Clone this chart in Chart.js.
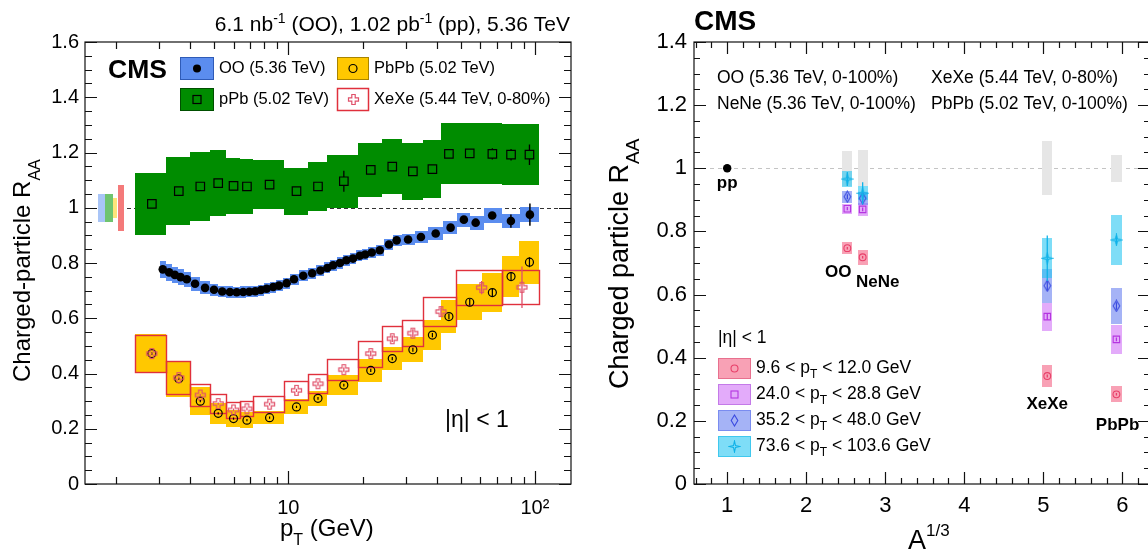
<!DOCTYPE html>
<html>
<head>
<meta charset="utf-8">
<script src="https://cdn.jsdelivr.net/npm/chart.js@4.4.1/dist/chart.umd.min.js"></script>
<style>
html,body{margin:0;padding:0;background:#fff;width:1148px;height:551px;overflow:hidden;}
canvas{position:absolute;top:0;}
#left{left:0;}
#right{left:585px;}
</style>
</head>
<body>
<canvas id="left" width="585" height="551"></canvas>
<canvas id="right" width="575" height="551"></canvas>
<script>
// ================= DATA : left panel (R_AA vs pT) =================
const ptBinEdges = [2.4,3.2,4.0,4.8,5.6,6.4,7.2,9.6,12.0,14.4,19.2,24.0,28.8,35.2,41.6,48.0,60.8,73.6,86.4,103.6];
const ptBinEdgesXeXe = [2.4,3.2,4.0,4.8,5.6,6.4,7.2,9.6,12.0,14.4,19.2,24.0,28.8,35.2,48.0,73.6,103.6];

const ooPt = [3.10,3.29,3.47,3.66,3.88,4.19,4.60,5.00,5.40,5.80,6.18,6.57,6.95,7.35,7.75,8.17,8.69,9.17,9.85,10.55,11.5,12.5,13.5,14.4,15.2,16.2,17.2,18.3,19.5,20.5,21.8,23.5,25.6,27.5,30.6,34.5,39.6,45.5,51.5,57.5,67.1,79.9,95.4];
const ooRaa = [0.777,0.766,0.757,0.749,0.741,0.725,0.710,0.703,0.697,0.695,0.694,0.695,0.696,0.698,0.702,0.707,0.713,0.718,0.727,0.741,0.754,0.763,0.773,0.782,0.792,0.800,0.810,0.816,0.826,0.831,0.838,0.846,0.867,0.882,0.885,0.894,0.907,0.928,0.957,0.946,0.972,0.952,0.975];
const ooStat = [0.002,0.002,0.002,0.002,0.002,0.002,0.002,0.002,0.002,0.002,0.002,0.002,0.002,0.002,0.002,0.002,0.002,0.002,0.002,0.002,0.002,0.002,0.002,0.002,0.002,0.002,0.002,0.002,0.002,0.002,0.002,0.002,0.002,0.002,0.002,0.003,0.003,0.004,0.005,0.006,0.008,0.024,0.040];
const ooSyst = [0.030,0.030,0.029,0.028,0.027,0.026,0.024,0.022,0.021,0.020,0.020,0.020,0.020,0.020,0.020,0.020,0.020,0.020,0.020,0.020,0.020,0.020,0.020,0.020,0.020,0.020,0.020,0.020,0.020,0.020,0.020,0.020,0.020,0.020,0.020,0.021,0.022,0.023,0.025,0.025,0.026,0.026,0.026];

const pPbRaa  = [1.014,1.060,1.077,1.089,1.079,1.077,1.084,1.060,1.077,1.096,1.137,1.149,1.132,1.140,1.195,1.197,1.195,1.192,1.192];
const pPbStat = [0.004,0.004,0.004,0.004,0.004,0.004,0.004,0.005,0.006,0.038,0.008,0.009,0.008,0.010,0.010,0.012,0.020,0.021,0.037];
const pPbSyst = [0.112,0.122,0.124,0.120,0.100,0.100,0.090,0.085,0.088,0.096,0.098,0.100,0.103,0.104,0.110,0.110,0.110,0.110,0.110];

const pbpbRaa  = [0.472,0.381,0.300,0.256,0.237,0.231,0.240,0.279,0.310,0.358,0.411,0.454,0.486,0.539,0.606,0.658,0.693,0.751,0.803];
const pbpbStat = [0.004,0.004,0.004,0.004,0.004,0.004,0.004,0.004,0.005,0.005,0.006,0.006,0.007,0.008,0.010,0.012,0.014,0.016,0.018];
const pbpbSyst = [0.070,0.065,0.051,0.038,0.030,0.028,0.023,0.027,0.028,0.036,0.040,0.043,0.045,0.055,0.060,0.066,0.069,0.075,0.078];

const xexeRaa  = [0.472,0.385,0.322,0.291,0.268,0.272,0.289,0.339,0.363,0.414,0.472,0.526,0.546,0.624,0.711,0.712];
const xexeStat = [0.003,0.004,0.004,0.004,0.005,0.005,0.005,0.006,0.007,0.008,0.010,0.012,0.014,0.016,0.024,0.075];
const xexeSyst = [0.066,0.060,0.040,0.034,0.030,0.027,0.030,0.034,0.035,0.039,0.047,0.045,0.048,0.053,0.062,0.062];

const normLabels = ['OO','pPb','PbPb','XeXe'];
const normUncLeft = [0.050,0.050,0.037,0.084];

const ptMajorTicks = [10,100];
const ptMinorTicks = [2,3,4,5,6,7,8,9,20,30,40,50,60,70,80,90];
const raaMajorLeft = [0,0.2,0.4,0.6,0.8,1.0,1.2,1.4,1.6];

// ================= DATA : right panel (R_AA vs A^1/3) =================
const systemNames = ['OO','NeNe','XeXe','PbPb'];
const aThird = [2.52,2.714,5.05,5.925];
const normUncRight = [0.055,0.057,0.085,0.043];
const ppA = [1.0];
const ppRaa = [1.0];
const binLabels = ['9.6 < p','24.0 < p','35.2 < p','73.6 < p'];
const binLabelsEnd = [' < 12.0 GeV',' < 28.8 GeV',' < 48.0 GeV',' < 103.6 GeV'];
const raaBin1 = [0.747,0.718,0.342,0.284];
const sysBin1 = [0.020,0.024,0.035,0.025];
const statBin1 = [0.004,0.004,0.005,0.004];
const raaBin2 = [0.872,0.870,0.530,0.458];
const sysBin2 = [0.016,0.020,0.044,0.045];
const statBin2 = [0.005,0.006,0.010,0.006];
const raaBin3 = [0.910,0.905,0.628,0.564];
const sysBin3 = [0.019,0.020,0.054,0.058];
const statBin3 = [0.008,0.010,0.015,0.012];
const raaBin4 = [0.966,0.921,0.715,0.773];
const sysBin4 = [0.026,0.023,0.063,0.079];
const statBin4 = [0.022,0.035,0.072,0.012];

const aMajorTicks = [1,2,3,4,5,6];
const aMinorTicks = [0.6,0.8,1.2,1.4,1.6,1.8,2.2,2.4,2.6,2.8,3.2,3.4,3.6,3.8,4.2,4.4,4.6,4.8,5.2,5.4,5.6,5.8,6.2];
const raaMajorRight = [0,0.2,0.4,0.6,0.8,1.0,1.2,1.4];

// ================= styles =================
const FONT = '"Liberation Sans", Arial, Helvetica, sans-serif';
const fnt = (s, b) => (b ? 'bold ' : '') + s + 'px ' + FONT;
Chart.defaults.font.family = FONT;
Chart.defaults.color = '#000';
Chart.defaults.animation = false;

const C = {
  oo:'#5b8def', ooEdge:'#2f5bb7',
  ppb:'#008c00', ppbEdge:'#004f00',
  pbpb:'#ffc800', pbpbEdge:'#a88400',
  xexe:'#e0303c', xexeMk:'#e0506a',
  normCols:['#a9c5f7','#6fc46f','#fde47a','#f47a7a'],
  binFill:['rgba(244,104,136,0.62)','rgba(206,110,246,0.58)','rgba(100,124,240,0.58)','rgba(40,198,242,0.6)'],
  binEdge:['#e8708e','#c47ae8','#7a8cf0','#40c8ee'],
  binMk:['#e8406a','#b535e0','#3a4ae0','#10b2e8'],
  gray:'#e6e6e6'
};

function makeMarker(w, h, draw) {
  const c = document.createElement('canvas'); c.width = w; c.height = h;
  draw(c.getContext('2d'), w, h); return c;
}
const crossMk = makeMarker(13, 13, (g) => {
  const c = 6.5, a = 1.7, L = 5;
  g.strokeStyle = C.xexeMk; g.lineWidth = 1.2; g.beginPath();
  g.moveTo(c-a,c-L); g.lineTo(c+a,c-L); g.lineTo(c+a,c-a); g.lineTo(c+L,c-a); g.lineTo(c+L,c+a);
  g.lineTo(c+a,c+a); g.lineTo(c+a,c+L); g.lineTo(c-a,c+L); g.lineTo(c-a,c+a); g.lineTo(c-L,c+a);
  g.lineTo(c-L,c-a); g.lineTo(c-a,c-a); g.closePath(); g.stroke();
});
const starMk = makeMarker(13, 13, (g) => {
  const c = 6.5, R = 5.5, r = 1.4;
  g.strokeStyle = C.binMk[3]; g.lineWidth = 1.1; g.beginPath();
  for (let k = 0; k < 8; k++) {
    const ang = k * Math.PI / 4 - Math.PI / 2, rr = (k % 2 === 0) ? R : r;
    const px = c + rr * Math.cos(ang), py = c + rr * Math.sin(ang);
    if (k === 0) g.moveTo(px, py); else g.lineTo(px, py);
  }
  g.closePath(); g.stroke();
});
const diamondMk = makeMarker(9, 13, (g, w, h) => {
  g.strokeStyle = C.binMk[2]; g.lineWidth = 1.1; g.beginPath();
  g.moveTo(w/2, 1); g.lineTo(w-1.2, h/2); g.lineTo(w/2, h-1); g.lineTo(1.2, h/2); g.closePath(); g.stroke();
});

function richText(ctx, parts, x, y, align) {
  let w = 0;
  for (const p of parts) { ctx.font = fnt(p.s, p.b); w += ctx.measureText(p.t).width; }
  let cx = align === 'right' ? x - w : (align === 'center' ? x - w / 2 : x);
  ctx.textAlign = 'left';
  for (const p of parts) { ctx.font = fnt(p.s, p.b); ctx.fillText(p.t, cx, y + (p.dy || 0)); cx += ctx.measureText(p.t).width; }
}

function drawFrame(chart, cfg) {
  const { ctx, chartArea: a, scales: { x, y } } = chart;
  ctx.save();
  ctx.strokeStyle = '#111'; ctx.lineWidth = 1.2;
  ctx.beginPath();
  const tx = (vals, len) => { for (const v of vals) { const p = Math.round(x.getPixelForValue(v)) + 0.5; ctx.moveTo(p, a.bottom); ctx.lineTo(p, a.bottom - len); ctx.moveTo(p, a.top); ctx.lineTo(p, a.top + len); } };
  const ty = (vals, len) => { for (const v of vals) { const p = Math.round(y.getPixelForValue(v)) + 0.5; ctx.moveTo(a.left, p); ctx.lineTo(a.left + len, p); ctx.moveTo(a.right, p); ctx.lineTo(a.right - len, p); } };
  tx(cfg.xMajor, cfg.xMaj); tx(cfg.xMinor, cfg.xMin);
  ty(cfg.yMajor, cfg.yMaj); ty(cfg.yMinor, cfg.yMin);
  ctx.stroke();
  ctx.strokeRect(a.left, a.top, a.right - a.left, a.bottom - a.top);
  ctx.restore();
}

function minorRange(lo, hi, step, majors) {
  const out = [];
  for (let v = lo; v <= hi + 1e-9; v += step) {
    const r = Math.round(v * 1000) / 1000;
    if (!majors.some(m => Math.abs(m - r) < 1e-6)) out.push(r);
  }
  return out;
}

// boxes through the scales
function boxes(chart, xlo, xhi, yc, half, fill, stroke, lw) {
  const { ctx, scales: { x, y } } = chart;
  for (let i = 0; i < yc.length; i++) {
    const p1 = Math.round(x.getPixelForValue(xlo[i])), p2 = Math.round(x.getPixelForValue(xhi[i]));
    const q1 = Math.round(y.getPixelForValue(yc[i] + half[i])), q2 = Math.round(y.getPixelForValue(yc[i] - half[i]));
    if (fill) { ctx.fillStyle = fill; ctx.fillRect(p1, q1, p2 - p1, q2 - q1); }
    if (stroke) { ctx.strokeStyle = stroke; ctx.lineWidth = lw || 1; ctx.strokeRect(p1 + 0.5, q1 + 0.5, p2 - p1, q2 - q1); }
  }
}
function errBars(chart, xs, ys, es, color, gap, lw) {
  const { ctx, scales: { x, y } } = chart;
  ctx.save(); ctx.strokeStyle = color; ctx.lineWidth = lw || 1.3; ctx.beginPath();
  for (let i = 0; i < ys.length; i++) {
    const px = x.getPixelForValue(xs[i]), py = y.getPixelForValue(ys[i]);
    const top = y.getPixelForValue(ys[i] + es[i]), bot = y.getPixelForValue(ys[i] - es[i]);
    if (gap > 0) {
      if (py - top > gap) { ctx.moveTo(px, top); ctx.lineTo(px, py - gap); ctx.moveTo(px, py + gap); ctx.lineTo(px, bot); }
    } else { ctx.moveTo(px, top); ctx.lineTo(px, Math.max(bot, top + 1.2)); }
  }
  ctx.stroke(); ctx.restore();
}

// ---------- derived bin info ----------
const ctr = e => e.slice(0, -1).map((v, i) => (v + e[i + 1]) / 2);
const binPt = ctr(ptBinEdges), binPtXe = ctr(ptBinEdgesXeXe);
const ooLo = ooPt.map((v, i) => i === 0 ? v / Math.sqrt(ooPt[1] / ooPt[0]) : Math.sqrt(ooPt[i - 1] * v));
const ooHi = ooPt.map((v, i) => i === ooPt.length - 1 ? v * Math.sqrt(v / ooPt[i - 1]) : Math.sqrt(v * ooPt[i + 1]));

// ================= LEFT CHART =================
const leftPlugin = {
  id: 'leftDecor',
  beforeDatasetsDraw(chart) {
    const { ctx, chartArea: a, scales: { x, y } } = chart;
    ctx.save();
    ctx.beginPath(); ctx.rect(a.left, a.top, a.right - a.left, a.bottom - a.top); ctx.clip();
    // dashed unity line
    ctx.strokeStyle = '#333'; ctx.lineWidth = 1; ctx.setLineDash([4, 3]);
    const y1 = Math.round(y.getPixelForValue(1)) + 0.5;
    ctx.beginPath(); ctx.moveTo(a.left, y1); ctx.lineTo(a.right, y1); ctx.stroke(); ctx.setLineDash([]);
    // normalisation uncertainties at unity
    const normX = [[1.69,1.81],[1.81,1.94],[1.94,2.03],[2.05,2.16]];
    normUncLeft.forEach((u, i) => boxes(chart, [normX[i][0]], [normX[i][1]], [1], [u], C.normCols[i]));
    // systematic bands
    boxes(chart, ptBinEdges.slice(0, -1), ptBinEdges.slice(1), pPbRaa, pPbSyst, C.ppb);
    boxes(chart, ooLo, ooHi, ooRaa, ooSyst, C.oo);
    boxes(chart, ptBinEdges.slice(0, -1), ptBinEdges.slice(1), pbpbRaa, pbpbSyst, C.pbpb);
    boxes(chart, ptBinEdgesXeXe.slice(0, -1), ptBinEdgesXeXe.slice(1), xexeRaa, xexeSyst, null, C.xexe, 1.4);
    ctx.restore();
  },
  afterDatasetsDraw(chart) {
    errBars(chart, ooPt, ooRaa, ooStat, '#000', 0, 1.5);
    errBars(chart, binPt, pPbRaa, pPbStat, '#000', 4.3, 1.3);
    errBars(chart, binPt, pbpbRaa, pbpbStat, '#000', 0, 1.2);
    errBars(chart, binPtXe, xexeRaa, xexeStat, C.xexeMk, 0, 1.3);
  },
  afterDraw(chart) {
    const ctx = chart.ctx;
    drawFrame(chart, { xMajor: ptMajorTicks, xMinor: ptMinorTicks, xMaj: 13, xMin: 7,
      yMajor: raaMajorLeft, yMinor: minorRange(0, 1.6, 0.05, raaMajorLeft), yMaj: 12, yMin: 7 });
    ctx.save(); ctx.fillStyle = '#000'; ctx.textBaseline = 'alphabetic';
    // top title
    richText(ctx, [{t:'6.1 nb',s:21},{t:'-1',s:14,dy:-8},{t:' (OO), 1.02 pb',s:21},{t:'-1',s:14,dy:-8},{t:' (pp), 5.36 TeV',s:21}], 570, 31, 'right');
    // axis titles
    richText(ctx, [{t:'p',s:24},{t:'T',s:16,dy:9},{t:' (GeV)',s:24}], 280, 536, 'left');
    ctx.save(); ctx.translate(30, 382); ctx.rotate(-Math.PI / 2);
    richText(ctx, [{t:'Charged-particle R',s:24},{t:'AA',s:16,dy:10}], 0, 0, 'left');
    ctx.restore();
    // CMS + eta
    ctx.textBaseline = 'middle';
    ctx.font = fnt(26.5, true); ctx.textAlign = 'left'; ctx.fillText('CMS', 108, 71);
    ctx.font = fnt(23); ctx.textBaseline = 'alphabetic'; ctx.fillText('|\u03b7| < 1', 445, 427);
    // legend
    ctx.textBaseline = 'middle';
    const leg = [
      { x: 180, y: 57, w: 33, fill: C.oo, edge: C.ooEdge, text: 'OO (5.36 TeV)', mk: 'dot' },
      { x: 337, y: 57, w: 31, fill: C.pbpb, edge: C.pbpbEdge, text: 'PbPb (5.02 TeV)', mk: 'circ' },
      { x: 180, y: 88, w: 33, fill: C.ppb, edge: C.ppbEdge, text: 'pPb (5.02 TeV)', mk: 'sq' },
      { x: 337, y: 88, w: 31, fill: '#fff', edge: C.xexe, text: 'XeXe (5.44 TeV, 0-80%)', mk: 'cross' }
    ];
    for (const l of leg) {
      ctx.fillStyle = l.fill; ctx.fillRect(l.x, l.y, l.w, 22);
      ctx.strokeStyle = l.edge; ctx.lineWidth = l.mk === 'cross' ? 1.5 : 1; ctx.strokeRect(l.x + 0.5, l.y + 0.5, l.w, 22);
      const cx = l.x + l.w / 2 + 0.5, cy = l.y + 11.5;
      ctx.strokeStyle = '#000'; ctx.fillStyle = '#000'; ctx.lineWidth = 1.2;
      if (l.mk === 'dot') { ctx.beginPath(); ctx.arc(cx, cy, 4, 0, 2 * Math.PI); ctx.fill(); }
      if (l.mk === 'circ') { ctx.beginPath(); ctx.arc(cx, cy, 4, 0, 2 * Math.PI); ctx.stroke(); }
      if (l.mk === 'sq') { ctx.strokeRect(cx - 4, cy - 4, 8, 8); }
      if (l.mk === 'cross') { ctx.drawImage(crossMk, Math.round(cx - 6.5), Math.round(cy - 6.5)); }
      ctx.fillStyle = '#000'; ctx.font = fnt(16.5); ctx.textAlign = 'left';
      ctx.fillText(l.text, l.x + l.w + 6, cy);
    }
    ctx.restore();
  }
};

new Chart(document.getElementById('left'), {
  type: 'scatter',
  data: {
    datasets: [
      { label: 'OO', data: ooPt.map((v, i) => ({ x: v, y: ooRaa[i] })), pointStyle: 'circle', pointRadius: 4.3, pointBackgroundColor: '#000', pointBorderColor: '#000', pointBorderWidth: 0 },
      { label: 'XeXe', data: binPtXe.map((v, i) => ({ x: v, y: xexeRaa[i] })), pointStyle: crossMk, pointRadius: 6 },
      { label: 'PbPb', data: binPt.map((v, i) => ({ x: v, y: pbpbRaa[i] })), pointStyle: 'circle', pointRadius: 4, pointBackgroundColor: 'rgba(0,0,0,0)', pointBorderColor: '#000', pointBorderWidth: 1.2 },
      { label: 'pPb', data: binPt.map((v, i) => ({ x: v, y: pPbRaa[i] })), pointStyle: 'rect', pointRadius: 6, pointBackgroundColor: 'rgba(0,0,0,0)', pointBorderColor: '#000', pointBorderWidth: 1.2 }
    ]
  },
  options: {
    responsive: false, animation: false,
    layout: { padding: { left: 0, right: 14, top: 42, bottom: 0 } },
    plugins: { legend: { display: false }, tooltip: { enabled: false } },
    scales: {
      x: {
        type: 'logarithmic', min: 1.5, max: 140,
        afterBuildTicks: s => { s.ticks = ptMajorTicks.map(v => ({ value: v })); },
        afterFit: s => { s.height = 67; },
        grid: { display: false, drawTicks: false, tickLength: 0 }, border: { display: false },
        ticks: { autoSkip: false, maxRotation: 0, padding: 12, font: { size: 20 }, color: '#000',
          callback: v => v === 10 ? '10' : (v === 100 ? '10\u00b2' : '') }
      },
      y: {
        type: 'linear', min: 0, max: 1.6,
        afterBuildTicks: s => { s.ticks = raaMajorLeft.map(v => ({ value: v })); },
        afterFit: s => { s.width = 85; },
        grid: { display: false, drawTicks: false, tickLength: 0 }, border: { display: false },
        ticks: { padding: 6, font: { size: 20 }, color: '#000',
          callback: v => (Math.abs(v) < 1e-9 ? '0' : (Math.abs(v - 1) < 1e-9 ? '1' : v.toFixed(1))) }
      }
    }
  },
  plugins: [leftPlugin]
});

// ================= RIGHT CHART =================
const binRaa = [raaBin1, raaBin2, raaBin3, raaBin4];
const binSys = [sysBin1, sysBin2, sysBin3, sysBin4];
const binStat = [statBin1, statBin2, statBin3, statBin4];
const BOXW = 0.065;

const rightPlugin = {
  id: 'rightDecor',
  beforeDatasetsDraw(chart) {
    const { ctx, chartArea: a, scales: { y } } = chart;
    ctx.save();
    ctx.beginPath(); ctx.rect(a.left, a.top, a.right - a.left, a.bottom - a.top); ctx.clip();
    ctx.strokeStyle = '#c4c4c4'; ctx.lineWidth = 1; ctx.setLineDash([4, 4]);
    const y1 = Math.round(y.getPixelForValue(1)) + 0.5;
    ctx.beginPath(); ctx.moveTo(a.left, y1); ctx.lineTo(a.right, y1); ctx.stroke(); ctx.setLineDash([]);
    const lo = aThird.map(v => v - BOXW), hi = aThird.map(v => v + BOXW);
    boxes(chart, lo, hi, aThird.map(() => 1), normUncRight, C.gray);
    for (let k = 0; k < 4; k++) boxes(chart, lo, hi, binRaa[k], binSys[k], C.binFill[k]);
    ctx.restore();
  },
  afterDatasetsDraw(chart) {
    for (let k = 0; k < 4; k++) errBars(chart, aThird, binRaa[k], binStat[k], C.binMk[k], 0, 1.3);
  },
  afterDraw(chart) {
    const { ctx, scales: { x, y } } = chart;
    drawFrame(chart, { xMajor: aMajorTicks, xMinor: aMinorTicks, xMaj: 12, xMin: 6,
      yMajor: raaMajorRight, yMinor: minorRange(0, 1.4, 0.05, raaMajorRight), yMaj: 12, yMin: 6 });
    ctx.save(); ctx.fillStyle = '#000';
    ctx.textBaseline = 'middle'; ctx.textAlign = 'left';
    ctx.font = fnt(28, true); ctx.fillText('CMS', 109, 22);
    ctx.font = fnt(17.5);
    ctx.fillText('OO (5.36 TeV, 0-100%)', 132, 78);
    ctx.fillText('XeXe (5.44 TeV, 0-80%)', 346, 78);
    ctx.fillText('NeNe (5.36 TeV, 0-100%)', 132, 104);
    ctx.fillText('PbPb (5.02 TeV, 0-100%)', 346, 104);
    // system labels anchored in data coordinates
    ctx.font = fnt(17, true); ctx.textAlign = 'center';
    const ann = [['pp', 1.0, 0.953], ['OO', 2.405, 0.672], ['NeNe', 2.905, 0.640], ['XeXe', 5.05, 0.253], ['PbPb', 5.94, 0.187]];
    for (const [t, ax, ay] of ann) ctx.fillText(t, x.getPixelForValue(ax), y.getPixelForValue(ay));
    // lower legend
    ctx.textAlign = 'left'; ctx.font = fnt(17.5);
    ctx.fillText('|\u03b7| < 1', 133, 338);
    const mkDraw = (k, cx, cy) => {
      ctx.strokeStyle = C.binMk[k]; ctx.lineWidth = 1.1;
      if (k === 0) { ctx.beginPath(); ctx.arc(cx, cy, 3.5, 0, 2 * Math.PI); ctx.stroke(); }
      if (k === 1) { ctx.strokeRect(cx - 3.5, cy - 3.5, 7, 7); }
      if (k === 2) ctx.drawImage(diamondMk, Math.round(cx - 4.5), Math.round(cy - 6.5));
      if (k === 3) ctx.drawImage(starMk, Math.round(cx - 6.5), Math.round(cy - 6.5));
    };
    for (let k = 0; k < 4; k++) {
      const cy = 368 + k * 26;
      ctx.fillStyle = '#fff'; ctx.fillRect(133, cy - 10, 32, 20);
      ctx.fillStyle = C.binFill[k]; ctx.fillRect(133, cy - 10, 32, 20);
      ctx.strokeStyle = C.binEdge[k]; ctx.lineWidth = 1; ctx.strokeRect(133.5, cy - 9.5, 32, 20);
      mkDraw(k, 149.5, cy + 0.5);
      ctx.fillStyle = '#000'; ctx.textBaseline = 'middle';
      richText(ctx, [{t: binLabels[k], s: 17.5}, {t: 'T', s: 12, dy: 7}, {t: binLabelsEnd[k], s: 17.5}], 171, cy, 'left');
    }
    // axis titles
    ctx.textBaseline = 'alphabetic';
    richText(ctx, [{t:'A',s:27},{t:'1/3',s:17,dy:-13}], 323, 549, 'left');
    ctx.save(); ctx.translate(43, 389); ctx.rotate(-Math.PI / 2);
    richText(ctx, [{t:'Charged particle R',s:27},{t:'AA',s:19,dy:11}], 0, 0, 'left');
    ctx.restore();
    ctx.restore();
  }
};

const mkStyles = ['circle', 'rect', diamondMk, starMk];
const mkRadius = [3.4, 4.6, 6, 6];
const rightSets = [
  { label: 'pp', data: ppA.map((v, i) => ({ x: v, y: ppRaa[i] })), pointStyle: 'circle', pointRadius: 4.2, pointBackgroundColor: '#000', pointBorderColor: '#000', pointBorderWidth: 0 }
];
for (let k = 3; k >= 0; k--) {
  rightSets.push({ label: binLabels[k], data: aThird.map((v, i) => ({ x: v, y: binRaa[k][i] })),
    pointStyle: mkStyles[k], pointRadius: mkRadius[k], pointBackgroundColor: 'rgba(0,0,0,0)', pointBorderColor: C.binMk[k], pointBorderWidth: 1.1 });
}

new Chart(document.getElementById('right'), {
  type: 'scatter',
  data: { datasets: rightSets },
  options: {
    responsive: false, animation: false,
    layout: { padding: { left: 0, right: 10, top: 42, bottom: 0 } },
    plugins: { legend: { display: false }, tooltip: { enabled: false } },
    scales: {
      x: {
        type: 'linear', min: 0.58, max: 6.35,
        afterBuildTicks: s => { s.ticks = aMajorTicks.map(v => ({ value: v })); },
        afterFit: s => { s.height = 67; },
        grid: { display: false, drawTicks: false, tickLength: 0 }, border: { display: false },
        ticks: { autoSkip: false, maxRotation: 0, padding: 9, font: { size: 22 }, color: '#000', callback: v => String(v) }
      },
      y: {
        type: 'linear', min: 0, max: 1.4,
        afterBuildTicks: s => { s.ticks = raaMajorRight.map(v => ({ value: v })); },
        afterFit: s => { s.width = 109; },
        grid: { display: false, drawTicks: false, tickLength: 0 }, border: { display: false },
        ticks: { padding: 7, font: { size: 22 }, color: '#000',
          callback: v => (Math.abs(v) < 1e-9 ? '0' : (Math.abs(v - 1) < 1e-9 ? '1' : v.toFixed(1))) }
      }
    }
  },
  plugins: [rightPlugin]
});
</script>
</body>
</html>
